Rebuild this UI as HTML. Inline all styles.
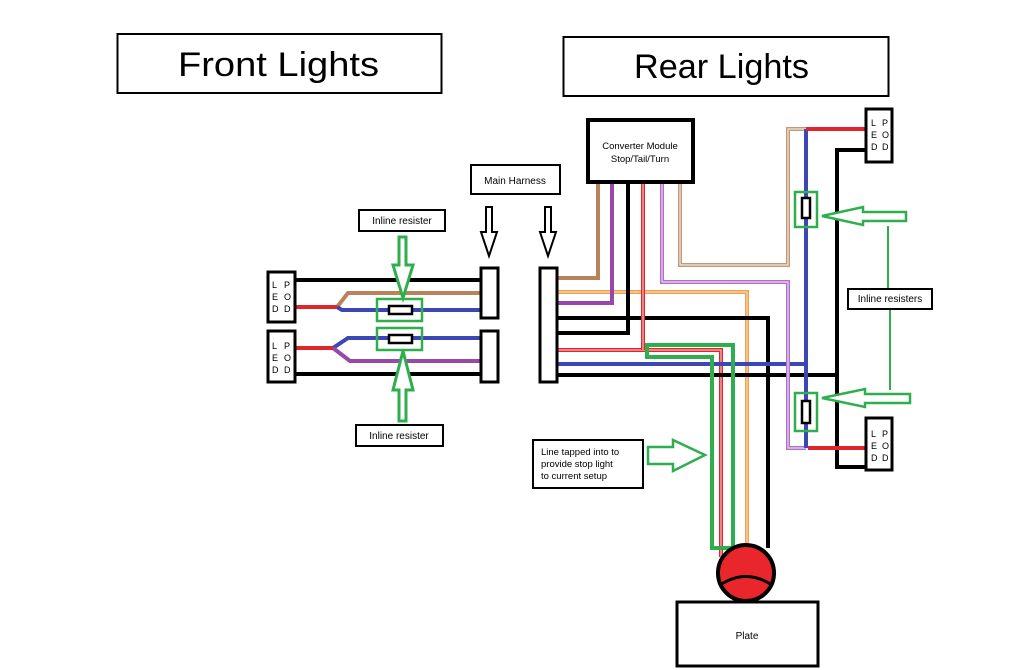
<!DOCTYPE html>
<html><head><meta charset="utf-8"><style>
body{margin:0;background:#fff;}
svg{display:block;font-family:"Liberation Sans",sans-serif;}
</style></head><body>
<svg width="1024" height="670" viewBox="0 0 1024 670" xmlns="http://www.w3.org/2000/svg">
<rect width="1024" height="670" fill="#fff"/>
<!-- Titles -->
<rect x="117.5" y="34" width="324" height="59" fill="none" stroke="#000" stroke-width="2"/>
<text x="178" y="76" font-size="34" textLength="201" lengthAdjust="spacingAndGlyphs">Front   Lights</text>
<rect x="563.5" y="37" width="325" height="59" fill="none" stroke="#000" stroke-width="2"/>
<text x="634" y="78" font-size="34" textLength="175" lengthAdjust="spacingAndGlyphs">Rear Lights</text>

<g font-size="10">
<!-- Main harness -->
<rect x="471" y="165" width="89" height="29" fill="#fff" stroke="#000" stroke-width="2"/>
<text x="515" y="184" text-anchor="middle">Main Harness</text>
<!-- outline arrows -->
<polygon points="486,207 492,207 492,232 497,232 489,256 481,232 486,232" fill="#fff" stroke="#000" stroke-width="2"/>
<polygon points="545,207 551,207 551,232 556,232 548,256 540,232 545,232" fill="#fff" stroke="#000" stroke-width="2"/>

<!-- Front wires -->
<g fill="none" stroke-width="4">
<line x1="295" y1="280" x2="481" y2="280" stroke="#000"/>
<line x1="295" y1="374" x2="481" y2="374" stroke="#000"/>
<polyline points="481,293 348,293 337,307" stroke="#b9825a"/>
<polyline points="481,310 342,310 337,307" stroke="#3c46b4"/>
<line x1="295" y1="307" x2="337" y2="307" stroke="#e0262a"/>
<polyline points="481,338 348,338 333,348" stroke="#3c46b4"/>
<polyline points="481,361 350,361 333,348" stroke="#9848a8"/>
<line x1="295" y1="348" x2="333" y2="348" stroke="#e0262a"/>
</g>
<!-- Front pods -->
<rect x="268" y="272" width="27" height="50" fill="#fff" stroke="#000" stroke-width="3"/>
<rect x="268" y="331" width="27" height="51" fill="#fff" stroke="#000" stroke-width="3"/>
<g font-size="9">
<text x="272" y="288">L</text><text x="284" y="288">P</text>
<text x="272" y="300">E</text><text x="284" y="300">O</text>
<text x="272" y="312">D</text><text x="284" y="312">D</text>
<text x="272" y="349">L</text><text x="284" y="349">P</text>
<text x="272" y="361">E</text><text x="284" y="361">O</text>
<text x="272" y="373">D</text><text x="284" y="373">D</text>
</g>
<!-- connector bars -->
<rect x="481" y="268" width="17" height="50" fill="#fff" stroke="#000" stroke-width="3"/>
<rect x="481" y="331" width="17" height="51" fill="#fff" stroke="#000" stroke-width="3"/>
<!-- front resistors -->
<rect x="377" y="299" width="45" height="22" fill="none" stroke="#2fae4e" stroke-width="2.5"/>
<rect x="389" y="306" width="23" height="8" fill="#fff" stroke="#000" stroke-width="2.5"/>
<rect x="377" y="328" width="45" height="22" fill="none" stroke="#2fae4e" stroke-width="2.5"/>
<rect x="389" y="335" width="23" height="8" fill="#fff" stroke="#000" stroke-width="2.5"/>
<polygon points="399,237 406,237 406,265 413,265 403,298 393,265 399,265" fill="#fff" stroke="#2fae4e" stroke-width="3"/>
<polygon points="399,421 406,421 406,390 413,390 403,351 393,390 399,390" fill="#fff" stroke="#2fae4e" stroke-width="3"/>
<rect x="359" y="210" width="86" height="21" fill="#fff" stroke="#000" stroke-width="2"/>
<text x="402" y="224" text-anchor="middle">Inline resister</text>
<rect x="356" y="425" width="87" height="21" fill="#fff" stroke="#000" stroke-width="2"/>
<text x="399" y="439" text-anchor="middle">Inline resister</text>

<!-- Rear wires -->
<g fill="none">
<polyline points="558,278 598,278 598,183" stroke="#b9825a" stroke-width="4"/>
<polyline points="558,292 747,292 747,546" stroke="#f0a050" stroke-width="4"/>
<polyline points="558,292 747,292 747,546" stroke="#f8d8b0" stroke-width="1.2"/>
<polyline points="558,303 612,303 612,183" stroke="#9848a8" stroke-width="4"/>
<polyline points="558,318 768,318 768,548" stroke="#000" stroke-width="4"/>
<polyline points="558,333 628,333 628,183" stroke="#000" stroke-width="4"/>
<polyline points="558,350 721,350 721,557" stroke="#e0262a" stroke-width="4"/>
<polyline points="558,350 721,350 721,557" stroke="#f4c0c0" stroke-width="1.2"/>
<polyline points="643,350 643,183" stroke="#e0262a" stroke-width="4"/>
<polyline points="643,350 643,183" stroke="#f4c0c0" stroke-width="1.2"/>
<polyline points="558,364 806,364" stroke="#3c46b4" stroke-width="4"/>
<polyline points="558,375 837,375" stroke="#000" stroke-width="4"/>
<polyline points="865,150 837,150 837,467 865,467" stroke="#000" stroke-width="4"/>
<polyline points="662,183 662,282 788,282 788,448 806,448" stroke="#b070c8" stroke-width="4"/>
<polyline points="662,183 662,282 788,282 788,448 806,448" stroke="#ecd8f2" stroke-width="1.2"/>
<polyline points="680,183 680,265 788,265 788,129 806,129" stroke="#c09a78" stroke-width="4"/>
<polyline points="680,183 680,265 788,265 788,129 806,129" stroke="#f2e6da" stroke-width="1.2"/>
<line x1="806" y1="129" x2="806" y2="448" stroke="#3c46b4" stroke-width="4"/>
<line x1="806" y1="129" x2="866" y2="129" stroke="#e0262a" stroke-width="4"/>
<line x1="808" y1="448" x2="866" y2="448" stroke="#e0262a" stroke-width="4"/>
<!-- green tap outline -->
<polygon points="647,345 733,345 733,548 712,548 712,357 647,357" stroke="#2fae4e" stroke-width="4"/>
</g>
<!-- harness bar right -->
<rect x="540" y="268" width="17" height="114" fill="#fff" stroke="#000" stroke-width="3"/>
<!-- converter -->
<rect x="588" y="120" width="105" height="62" fill="#fff" stroke="#000" stroke-width="4"/>
<text x="640" y="149" text-anchor="middle" font-size="9.5">Converter Module</text>
<text x="640" y="162" text-anchor="middle" font-size="9.5">Stop/Tail/Turn</text>
<!-- rear pods -->
<rect x="866" y="109" width="26" height="53" fill="#fff" stroke="#000" stroke-width="3"/>
<rect x="866" y="418" width="26" height="52" fill="#fff" stroke="#000" stroke-width="3"/>
<g font-size="9">
<text x="871" y="126">L</text><text x="882" y="126">P</text>
<text x="871" y="138">E</text><text x="882" y="138">O</text>
<text x="871" y="150">D</text><text x="882" y="150">D</text>
<text x="871" y="437">L</text><text x="882" y="437">P</text>
<text x="871" y="449">E</text><text x="882" y="449">O</text>
<text x="871" y="461">D</text><text x="882" y="461">D</text>
</g>
<!-- rear resistors -->
<rect x="795" y="192" width="22" height="35" fill="none" stroke="#2fae4e" stroke-width="2.5"/>
<rect x="802" y="198" width="8" height="20" fill="#fff" stroke="#000" stroke-width="2.5"/>
<rect x="795" y="393" width="22" height="38" fill="none" stroke="#2fae4e" stroke-width="2.5"/>
<rect x="802" y="401" width="8" height="22" fill="#fff" stroke="#000" stroke-width="2.5"/>
<polygon points="906,212 906,221 863,221 863,225 822,216 863,207 863,212" fill="#fff" stroke="#2fae4e" stroke-width="2.5"/>
<polygon points="910,394 910,403 865,403 865,407 822,398 865,389 865,394" fill="#fff" stroke="#2fae4e" stroke-width="2.5"/>
<line x1="888" y1="226" x2="888" y2="289" stroke="#2fae4e" stroke-width="2"/>
<line x1="890" y1="309" x2="890" y2="390" stroke="#2fae4e" stroke-width="2"/>
<rect x="848" y="289" width="84" height="20" fill="#fff" stroke="#000" stroke-width="2"/>
<text x="890" y="302" text-anchor="middle">Inline resisters</text>
<!-- tap label -->
<rect x="533" y="440" width="110" height="48" fill="#fff" stroke="#000" stroke-width="2"/>
<text x="541" y="455" font-size="9.5">Line tapped into to</text>
<text x="541" y="467" font-size="9.5">provide stop light</text>
<text x="541" y="479" font-size="9.5">to current setup</text>
<polygon points="648,447 673,447 673,440 705,455 673,471 673,464 648,464" fill="#fff" stroke="#2fae4e" stroke-width="2.5"/>
<!-- light -->
<circle cx="746" cy="573" r="28" fill="#e8262c" stroke="#000" stroke-width="4"/>
<path d="M720,585 Q746,568 772,585" fill="none" stroke="#000" stroke-width="3"/>
<!-- plate -->
<rect x="677" y="602" width="141" height="64" fill="#fff" stroke="#000" stroke-width="3"/>
<text x="747" y="639" text-anchor="middle">Plate</text>
</g>
</svg>
</body></html>
